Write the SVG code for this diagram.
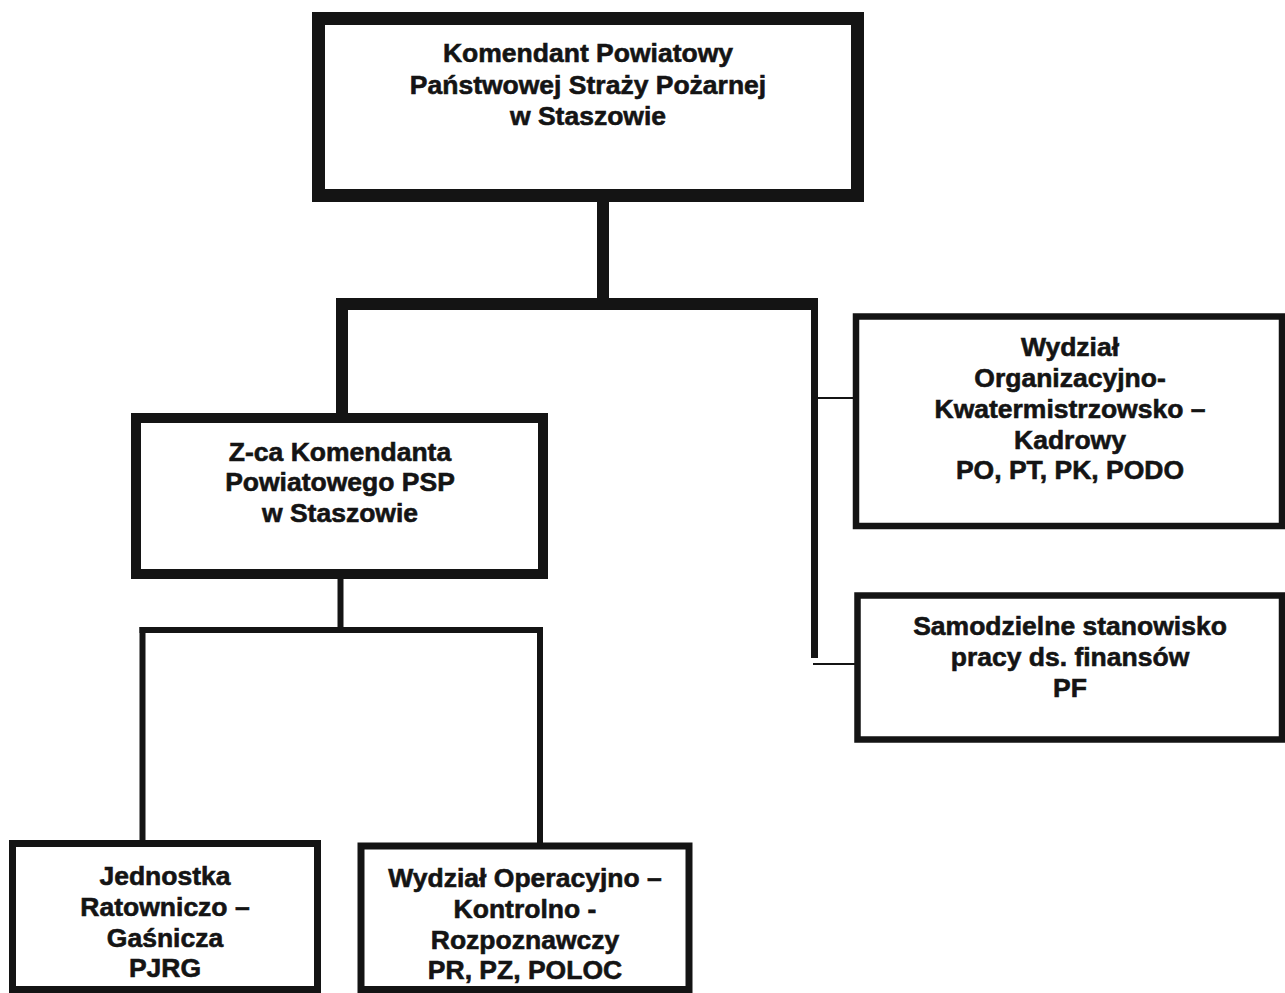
<svg xmlns="http://www.w3.org/2000/svg" width="1285" height="993" viewBox="0 0 1285 993">
<style>
.box{fill:#fff;stroke:#141414;}
.t{font-family:"Liberation Sans",Arial,sans-serif;font-weight:bold;font-size:26.5px;fill:#141414;stroke:#141414;stroke-width:0.6px;text-anchor:middle;}
.c{stroke:#141414;fill:none;}
</style>
<rect width="1285" height="993" fill="#fff"/>
<g id="connectors">
<line class="c" x1="603" y1="200" x2="603" y2="304" stroke-width="12"/>
<line class="c" x1="336" y1="304" x2="818" y2="304" stroke-width="12"/>
<line class="c" x1="342" y1="298" x2="342" y2="416" stroke-width="12"/>
<line class="c" x1="814.5" y1="298" x2="814.5" y2="658" stroke-width="7"/>
<line class="c" x1="818" y1="398" x2="856" y2="398" stroke-width="2"/>
<line class="c" x1="813" y1="664" x2="856" y2="664" stroke-width="2"/>
<line class="c" x1="340.5" y1="577" x2="340.5" y2="630" stroke-width="6"/>
<line class="c" x1="139.5" y1="630" x2="543" y2="630" stroke-width="6"/>
<line class="c" x1="142.5" y1="627" x2="142.5" y2="845" stroke-width="6"/>
<line class="c" x1="540" y1="627" x2="540" y2="846" stroke-width="6"/>
</g>
<g id="komendant">
<rect class="box" x="318.5" y="18.5" width="539" height="177" stroke-width="13"/>
<text class="t" x="588" y="62">Komendant Powiatowy</text>
<text class="t" x="588" y="94">Państwowej Straży Pożarnej</text>
<text class="t" x="588" y="125">w Staszowie</text>
</g>
<g id="zastepca">
<rect class="box" x="136" y="418" width="407" height="156" stroke-width="10"/>
<text class="t" x="340" y="461">Z-ca Komendanta</text>
<text class="t" x="340" y="491">Powiatowego PSP</text>
<text class="t" x="340" y="522">w Staszowie</text>
</g>
<g id="wydzial-org">
<rect class="box" x="856" y="316.5" width="426" height="209.5" stroke-width="6.5"/>
<text class="t" x="1070" y="356">Wydział</text>
<text class="t" x="1070" y="387">Organizacyjno-</text>
<text class="t" x="1070" y="418">Kwatermistrzowsko –</text>
<text class="t" x="1070" y="449">Kadrowy</text>
<text class="t" x="1070" y="479">PO, PT, PK, PODO</text>
</g>
<g id="finanse">
<rect class="box" x="857.5" y="595.5" width="424.5" height="144" stroke-width="6.5"/>
<text class="t" x="1070" y="635">Samodzielne stanowisko</text>
<text class="t" x="1070" y="666">pracy ds. finansów</text>
<text class="t" x="1070" y="697">PF</text>
</g>
<g id="jrg">
<rect class="box" x="12.5" y="843.5" width="305" height="146" stroke-width="7"/>
<text class="t" x="165" y="885">Jednostka</text>
<text class="t" x="165" y="916">Ratowniczo –</text>
<text class="t" x="165" y="947">Gaśnicza</text>
<text class="t" x="165" y="977">PJRG</text>
</g>
<g id="wydzial-oper">
<rect class="box" x="361" y="846" width="328" height="143.5" stroke-width="7"/>
<text class="t" x="525" y="887">Wydział Operacyjno –</text>
<text class="t" x="525" y="918">Kontrolno -</text>
<text class="t" x="525" y="949">Rozpoznawczy</text>
<text class="t" x="525" y="979">PR, PZ, POLOC</text>
</g>
</svg>
